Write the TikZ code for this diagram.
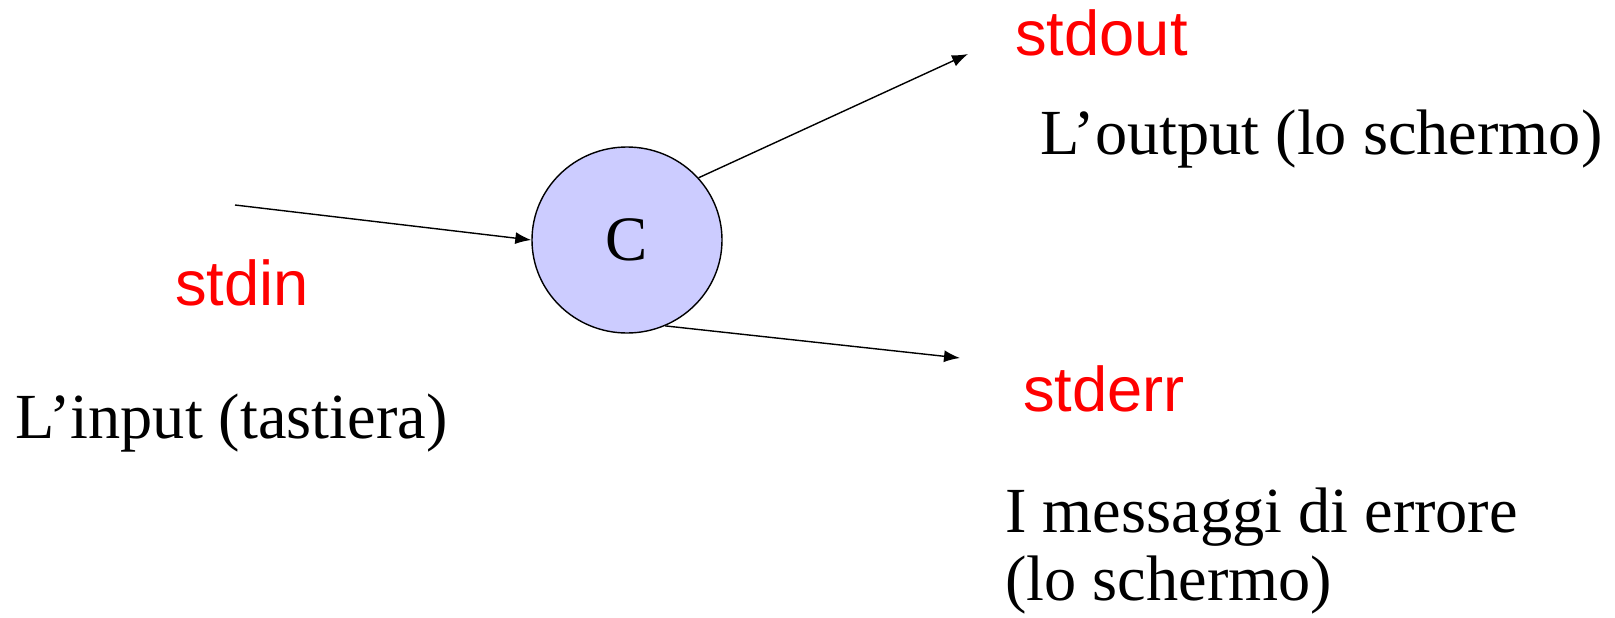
\documentclass[tikz,border=0pt]{standalone}
\usepackage{fontspec}
\setmainfont{Liberation Serif}
\setsansfont{Liberation Sans}
\usetikzlibrary{arrows.meta,shapes.geometric}

\definecolor{lilla}{RGB}{204,204,255}

\tikzset{
  flusso/.style={red, font=\sffamily\fontsize{36}{40}\selectfont, anchor=base west, inner sep=0pt},
  testo/.style={font=\fontsize{36.6}{40}\selectfont, anchor=base west, inner sep=0pt},
  freccia/.style={line width=0.8pt, -{Latex[length=0.32cm,width=0.24cm]}},
}

\begin{document}
\begin{tikzpicture}
  \useasboundingbox (0,0) rectangle (32.3,12.34);
  % il programma C
  \node[ellipse, draw, fill=lilla, line width=0.8pt, minimum width=3.8cm, inner sep=0pt,
        minimum height=3.72cm, font=\fontsize{36}{40}\selectfont] (C) at (12.54,7.54) {C};

  \coordinate (in)  at (4.70,8.24);
  \coordinate (out) at (19.36,11.26);
  \coordinate (err) at (19.20,5.18);

  \draw[freccia] (in) -- (C.west);
  \draw[freccia] (C.41) -- (out);
  \draw[freccia] (C.-66) -- (err);

  \node[flusso] (stdin)  at (3.50,6.24)  {stdin};
  \node[flusso] (stdout) at (20.30,11.24) {stdout};
  \node[flusso] (stderr) at (20.46,4.12) {stderr};

  \node[testo] (input)   at (0.31,3.58) {L’input (tastiera)};
  \node[testo] (output)  at (20.80,9.25) {L’output (lo schermo)};
  \node[testo] (errori)  at (20.10,1.69) {I messaggi di errore};
  \node[testo] (schermo) at (20.10,0.33) {(lo schermo)};
\end{tikzpicture}
\end{document}
